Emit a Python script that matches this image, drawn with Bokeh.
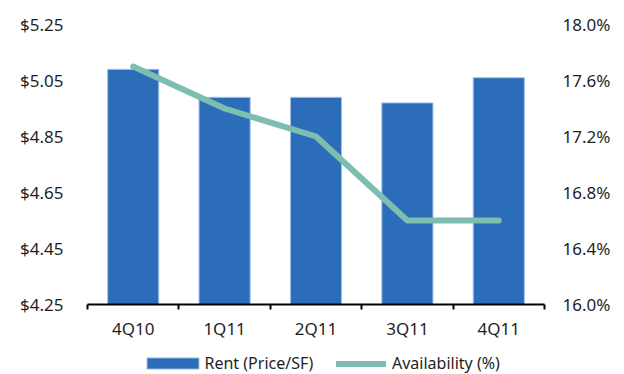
from bokeh.plotting import figure
from bokeh.layouts import column
from bokeh.models import (Range1d, LinearAxis, FixedTicker, NumeralTickFormatter,
                          Legend, LegendItem, ColumnDataSource)
from bokeh.embed import file_html
from bokeh.resources import INLINE

# Quarterly rent and availability
quarters = ["4Q10", "1Q11", "2Q11", "3Q11", "4Q11"]
rent = [5.09, 4.99, 4.99, 4.97, 5.06]          # $ per SF
availability = [17.7, 17.4, 17.2, 16.6, 16.6]  # %

rent_ticks = [4.25, 4.45, 4.65, 4.85, 5.05, 5.25]
avail_ticks = [16.0, 16.4, 16.8, 17.2, 17.6, 18.0]

FONT = "Noto Sans"
TEXT = "#1f1f1f"
BAR = "#2C6DB9"
BAR_EDGE = "#A8C6E8"
LINE = "#7DBEB0"

xs = [i + 0.5 for i in range(len(quarters))]
src = ColumnDataSource(dict(x=xs, rent=rent, avail=availability))

p = figure(width=624, height=344, output_backend="svg", toolbar_location=None,
           x_range=Range1d(0, len(quarters)),
           y_range=Range1d(rent_ticks[0], rent_ticks[-1]),
           min_border_left=87, min_border_right=80,
           min_border_top=24, min_border_bottom=40)
p.outline_line_color = None
p.xgrid.visible = False
p.ygrid.visible = False
p.xaxis.visible = False
p.yaxis.visible = False

p.extra_y_ranges = {"avail": Range1d(avail_ticks[0], avail_ticks[-1])}

p.vbar(x="x", top="rent", bottom=rent_ticks[0], width=0.56, source=src,
       fill_color=BAR, line_color=BAR_EDGE, line_width=1)
p.line(x="x", y="avail", source=src, y_range_name="avail",
       line_color=LINE, line_width=6, line_cap="round", line_join="round")

# Category axis: labels at the centres, tick marks at the boundaries
xaxis = LinearAxis(
    ticker=FixedTicker(ticks=xs, minor_ticks=list(range(len(quarters) + 1))),
    major_label_overrides={x: q for x, q in zip(xs, quarters)},
    axis_line_color="black", axis_line_width=2,
    major_tick_line_alpha=0, major_tick_out=0, major_tick_in=0,
    minor_tick_line_color="black", minor_tick_line_width=2,
    minor_tick_out=5, minor_tick_in=0,
    major_label_standoff=7,
    major_label_text_font=FONT, major_label_text_font_size="17px",
    major_label_text_color=TEXT)
p.add_layout(xaxis, "below")

left = LinearAxis(
    ticker=FixedTicker(ticks=rent_ticks),
    formatter=NumeralTickFormatter(format="$0.00"),
    axis_line_color=None, major_tick_line_color=None, minor_tick_line_color=None,
    major_tick_out=0, major_label_standoff=24,
    major_label_text_font=FONT, major_label_text_font_size="17px",
    major_label_text_color=TEXT)
p.add_layout(left, "left")

right = LinearAxis(
    y_range_name="avail",
    ticker=FixedTicker(ticks=avail_ticks),
    major_label_overrides={t: f"{t:.1f}%" for t in avail_ticks},
    axis_line_color=None, major_tick_line_color=None, minor_tick_line_color=None,
    major_tick_out=0, major_label_standoff=18,
    major_label_text_font=FONT, major_label_text_font_size="17px",
    major_label_text_color=TEXT)
p.add_layout(right, "right")

# Legend strip under the chart (its frame lines up with the chart frame)
lg = figure(width=624, height=30, output_backend="svg", toolbar_location=None,
            x_range=Range1d(0, 1), y_range=Range1d(0, 1),
            min_border=0, min_border_left=0, min_border_right=0,
            min_border_top=0, min_border_bottom=0)
lg.outline_line_color = None
lg.axis.visible = False
lg.grid.visible = False
# key glyphs sit outside the visible range; only their legend swatches show
keys = ColumnDataSource(dict(x=[-10, -9], y=[-10, -10], top=[-10, -10]))
rent_key = lg.vbar(x="x", top="top", bottom=-20, width=0.5, source=keys,
                   fill_color=BAR, line_color=BAR_EDGE, line_width=1)
avail_key = lg.line(x="x", y="y", source=keys, line_color=LINE, line_width=6,
                    line_cap="round")

common = dict(orientation="horizontal", padding=0, margin=0,
              border_line_alpha=0, background_fill_alpha=0,
              label_text_font=FONT, label_text_font_size="16px",
              label_text_color=TEXT)
lg.add_layout(Legend(items=[LegendItem(label="Rent (Price/SF)", renderers=[rent_key])],
                     location=(52.5, 0), glyph_width=65, glyph_height=14,
                     label_standoff=0, **common), "center")
lg.add_layout(Legend(items=[LegendItem(label="Availability (%)", renderers=[avail_key])],
                     location=(249, 0), glyph_width=50, glyph_height=11,
                     label_standoff=6, **common), "center")

open("out.html", "w").write(file_html(column(p, lg, spacing=0), INLINE))
